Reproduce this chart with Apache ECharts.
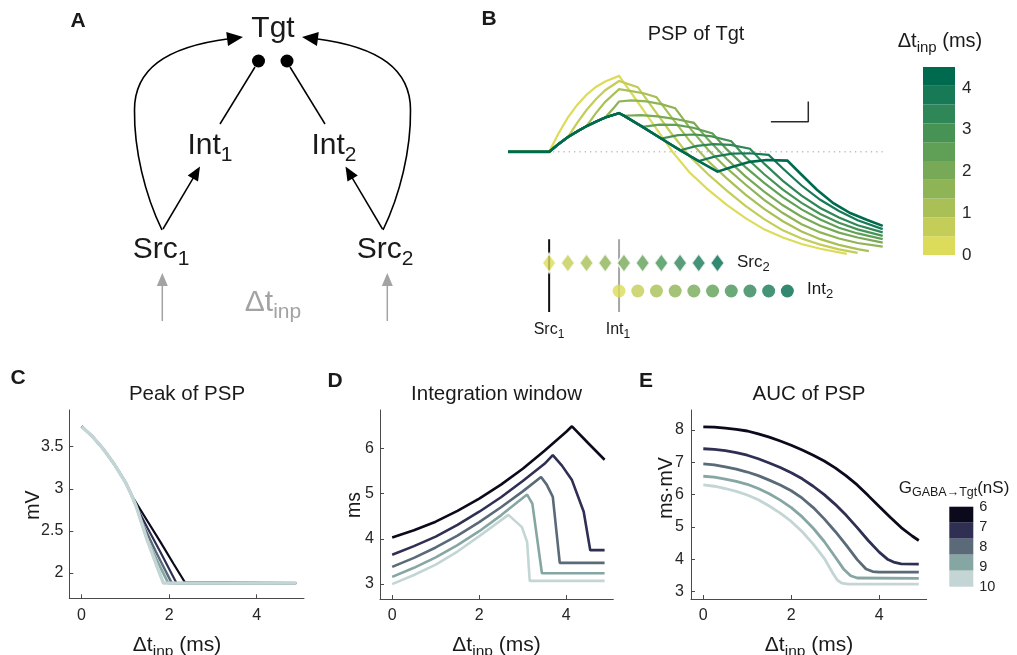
<!DOCTYPE html>
<html>
<head>
<meta charset="utf-8">
<script src="https://cdn.jsdelivr.net/npm/echarts@6/dist/echarts.min.js"></script>
<style>
  html, body { margin: 0; padding: 0; background: #fff; }
  #chart { width: 1017px; height: 655px; }
</style>
</head>
<body>
<div id="chart"></div>
<script>
const FONT = '"Liberation Sans", Arial, Helvetica, sans-serif';

// ---------------- Panel B: PSP of Tgt for each input delay ----------------
const dtInp = [0, 0.5, 1, 1.5, 2, 2.5, 3, 3.5, 4, 4.5];            // Δt_inp (ms)
const dtColors = ['#dcdc5a', '#c3cd57', '#a8c055', '#8fb455', '#77a956',
                  '#60a056', '#479356', '#2f8657', '#187956', '#006a4f'];
const src1Time = 0;
const int1Time = 1.87;
const src2Times = [0, 0.5, 1, 1.5, 2, 2.5, 3, 3.5, 4, 4.5];
const int2Times = [1.87, 2.37, 2.87, 3.37, 3.87, 4.37, 4.87, 5.37, 5.87, 6.37];

// [time (ms), membrane potential relative to rest (mV)]
const pspDt00 = [[-1.1,0],[0,0],[0.25,0.9],[0.5,1.68],[0.75,2.3],[1.0,2.8],[1.25,3.18],[1.5,3.45],[1.87,3.72],
  [2.25,2.75],[2.75,1.45],[3.3,0],[3.75,-1.0],[4.25,-1.85],[4.75,-2.6],[5.25,-3.25],[5.75,-3.8],[6.25,-4.2],
  [6.75,-4.52],[7.25,-4.75],[7.96,-5.0]];
const pspDt05 = [[-1.1,0],[0,0],[0.25,0.38],[0.5,0.72],[0.75,1.42],[1.0,2.05],[1.25,2.58],[1.5,3.02],[1.87,3.47],
  [2.1,3.33],[2.37,3.17],[2.75,2.2],[3.25,0.95],[3.75,-0.2],[4.25,-1.1],[4.75,-1.9],[5.25,-2.65],[5.75,-3.3],
  [6.25,-3.85],[6.75,-4.25],[7.25,-4.55],[7.75,-4.78],[8.25,-4.95]];
const pspDt10 = [[-1.1,0],[0,0],[0.25,0.38],[0.5,0.72],[0.75,1.0],[1.0,1.26],[1.25,1.9],[1.5,2.45],[1.87,3.07],
  [2.2,2.98],[2.55,2.86],[2.87,2.68],[3.25,1.75],[3.75,0.55],[4.25,-0.45],[4.75,-1.3],[5.25,-2.1],[5.75,-2.8],
  [6.25,-3.4],[6.75,-3.9],[7.25,-4.28],[7.75,-4.56],[8.25,-4.77],[8.55,-4.87]];
const pspDt15 = [[-1.1,0],[0,0],[0.25,0.38],[0.5,0.72],[0.75,1.0],[1.0,1.26],[1.25,1.48],[1.5,1.68],[1.75,2.2],[1.87,2.47],
  [2.2,2.52],[2.6,2.47],[3.0,2.34],[3.37,2.14],[3.75,1.2],[4.25,0.1],[4.75,-0.8],[5.25,-1.6],[5.75,-2.35],
  [6.25,-3.0],[6.75,-3.55],[7.25,-3.95],[7.75,-4.25],[8.25,-4.47],[8.92,-4.65]];
const pspDt20 = [[-1.1,0],[0,0],[0.25,0.38],[0.5,0.72],[0.75,1.0],[1.0,1.26],[1.25,1.48],[1.5,1.68],[1.87,1.9],
  [2.0,1.77],[2.45,1.8],[2.9,1.74],[3.35,1.62],[3.87,1.42],[4.25,0.6],[4.75,-0.35],[5.25,-1.2],[5.75,-1.95],
  [6.25,-2.62],[6.75,-3.18],[7.25,-3.62],[7.75,-3.96],[8.25,-4.2],[8.92,-4.45]];
const pspDt25 = [[-1.1,0],[0,0],[0.25,0.38],[0.5,0.72],[0.75,1.0],[1.0,1.26],[1.25,1.48],[1.5,1.68],[1.87,1.9],
  [2.0,1.77],[2.5,1.22],[2.95,1.33],[3.4,1.32],[3.85,1.18],[4.37,0.9],[4.75,0.12],[5.25,-0.75],[5.75,-1.52],
  [6.25,-2.22],[6.75,-2.82],[7.25,-3.32],[7.75,-3.72],[8.25,-4.0],[8.92,-4.28]];
const pspDt30 = [[-1.1,0],[0,0],[0.25,0.38],[0.5,0.72],[0.75,1.0],[1.0,1.26],[1.25,1.48],[1.5,1.68],[1.87,1.9],
  [2.0,1.77],[2.5,1.22],[3.0,0.65],[3.45,0.82],[3.9,0.85],[4.35,0.76],[4.87,0.52],[5.25,-0.25],[5.75,-1.1],
  [6.25,-1.85],[6.75,-2.5],[7.25,-3.05],[7.75,-3.48],[8.25,-3.8],[8.92,-4.12]];
const pspDt35 = [[-1.1,0],[0,0],[0.25,0.38],[0.5,0.72],[0.75,1.0],[1.0,1.26],[1.25,1.48],[1.5,1.68],[1.87,1.9],
  [2.0,1.77],[2.5,1.22],[3.0,0.65],[3.5,0.08],[3.95,0.29],[4.4,0.38],[4.85,0.34],[5.37,0.15],[5.75,-0.58],
  [6.25,-1.42],[6.75,-2.15],[7.25,-2.75],[7.75,-3.22],[8.25,-3.6],[8.92,-3.95]];
const pspDt40 = [[-1.1,0],[0,0],[0.25,0.38],[0.5,0.72],[0.75,1.0],[1.0,1.26],[1.25,1.48],[1.5,1.68],[1.87,1.9],
  [2.0,1.77],[2.5,1.22],[3.0,0.65],[3.5,0.08],[4.0,-0.45],[4.45,-0.22],[4.9,-0.09],[5.35,-0.07],[5.87,-0.15],
  [6.25,-0.82],[6.75,-1.65],[7.25,-2.35],[7.75,-2.9],[8.25,-3.35],[8.92,-3.79]];
const pspDt45 = [[-1.1,0],[0,0],[0.25,0.38],[0.5,0.72],[0.75,1.0],[1.0,1.26],[1.25,1.48],[1.5,1.68],[1.87,1.9],
  [2.0,1.77],[2.5,1.22],[3.0,0.65],[3.5,0.08],[4.0,-0.45],[4.5,-0.97],[4.93,-0.72],[5.37,-0.49],[5.82,-0.4],
  [6.37,-0.43],[6.71,-1.05],[7.16,-1.86],[7.6,-2.52],[8.05,-3.0],[8.49,-3.33],[8.92,-3.63]];
const pspTraces = [pspDt00, pspDt05, pspDt10, pspDt15, pspDt20, pspDt25, pspDt30, pspDt35, pspDt40, pspDt45];

const restLine = [[0.1, 0], [8.92, 0]];
const scaleBar = [[5.93, 1.47], [6.93, 1.47], [6.93, 2.47]];   // 1 ms x 1 mV
const colorbarTicks = [0, 1, 2, 3, 4];
const colorbarStep = 0.45;                                     // 10 colours over 0-4.5 ms

// ---------------- Panels C-E: sweep over GABA conductance ----------------
const gabaG = [6, 7, 8, 9, 10];                                   // nS
const gabaLabels = ['6', '7', '8', '9', '10'];
const gabaColors = ['#0a0a1c', '#2e2f52', '#5a6a78', '#86a6a3', '#c3d5d4'];
const xTicks = [0, 2, 4];

const peakG6  = [[0,3.74],[0.25,3.62],[0.5,3.47],[0.75,3.29],[1.0,3.08],[1.12,2.95],[1.18,2.89],[1.5,2.62],[1.8,2.37],[2.1,2.11],[2.36,1.89],[4.9,1.88]];
const peakG7  = [[0,3.74],[0.25,3.62],[0.5,3.47],[0.75,3.29],[1.0,3.08],[1.12,2.95],[1.25,2.79],[1.5,2.54],[1.8,2.25],[2.17,1.88],[4.9,1.88]];
const peakG8  = [[0,3.74],[0.25,3.62],[0.5,3.47],[0.75,3.29],[1.0,3.08],[1.12,2.95],[1.25,2.79],[1.4,2.58],[1.7,2.25],[2.06,1.88],[4.9,1.88]];
const peakG9  = [[0,3.74],[0.25,3.62],[0.5,3.47],[0.75,3.29],[1.0,3.08],[1.12,2.95],[1.25,2.79],[1.5,2.39],[1.75,2.12],[1.98,1.88],[4.9,1.88]];
const peakG10 = [[0,3.74],[0.25,3.62],[0.5,3.47],[0.75,3.29],[1.0,3.08],[1.12,2.95],[1.25,2.79],[1.5,2.39],[1.75,2.04],[1.87,1.88],[4.9,1.88]];
const peakPSP = [peakG6, peakG7, peakG8, peakG9, peakG10];

const winG6  = [[0,4.03],[0.5,4.19],[1,4.38],[1.5,4.62],[2,4.89],[2.5,5.2],[3,5.55],[3.5,5.95],[4,6.37],[4.13,6.49],[4.5,6.12],[4.88,5.75]];
const winG7  = [[0,3.65],[0.5,3.84],[1,4.05],[1.5,4.31],[2,4.6],[2.5,4.92],[3,5.28],[3.5,5.66],[3.69,5.85],[3.9,5.62],[4.13,5.3],[4.4,4.6],[4.55,3.75],[4.88,3.75]];
const winG8  = [[0,3.38],[0.5,3.58],[1,3.81],[1.5,4.07],[2,4.37],[2.5,4.7],[3,5.05],[3.42,5.37],[3.55,5.2],[3.69,4.93],[3.85,3.47],[4.88,3.47]];
const winG9  = [[0,3.16],[0.5,3.36],[1,3.59],[1.5,3.86],[2,4.17],[2.5,4.52],[3.1,4.98],[3.22,4.78],[3.44,3.24],[4.88,3.24]];
const winG10 = [[0,3.0],[0.5,3.2],[1,3.43],[1.5,3.72],[2,4.06],[2.67,4.53],[2.98,4.26],[3.1,3.93],[3.16,3.07],[4.88,3.07]];
const intWindow = [winG6, winG7, winG8, winG9, winG10];

const aucG6  = [[0,8.1],[0.25,8.09],[0.5,8.06],[0.75,8.02],[1,7.97],[1.25,7.88],[1.5,7.78],[1.75,7.66],[2,7.53],[2.25,7.38],[2.5,7.22],
  [2.75,7.04],[3,6.83],[3.25,6.58],[3.5,6.3],[3.75,5.97],[4,5.63],[4.25,5.3],[4.5,4.98],[4.75,4.72],[4.9,4.58]];
const aucG7  = [[0,7.42],[0.25,7.4],[0.5,7.36],[0.75,7.3],[1,7.22],[1.25,7.11],[1.5,6.98],[1.75,6.84],[2,6.68],[2.25,6.49],[2.5,6.26],
  [2.75,6.0],[3,5.7],[3.25,5.36],[3.5,4.98],[3.75,4.58],[4,4.22],[4.2,3.99],[4.35,3.9],[4.5,3.86],[4.9,3.85]];
const aucG8  = [[0,6.95],[0.25,6.92],[0.5,6.86],[0.75,6.79],[1,6.7],[1.25,6.59],[1.5,6.45],[1.75,6.3],[2,6.12],[2.25,5.89],[2.5,5.6],
  [2.75,5.25],[3,4.86],[3.25,4.44],[3.5,3.99],[3.7,3.7],[3.85,3.62],[4,3.6],[4.9,3.6]];
const aucG9  = [[0,6.57],[0.25,6.54],[0.5,6.48],[0.75,6.41],[1,6.32],[1.25,6.19],[1.5,6.03],[1.75,5.83],[2,5.6],[2.25,5.31],[2.5,4.96],
  [2.75,4.55],[3,4.07],[3.2,3.68],[3.35,3.49],[3.5,3.42],[4.9,3.41]];
const aucG10 = [[0,6.3],[0.25,6.26],[0.5,6.19],[0.75,6.1],[1,5.99],[1.25,5.84],[1.5,5.65],[1.75,5.43],[2,5.17],[2.25,4.85],[2.5,4.47],
  [2.75,4.03],[2.95,3.56],[3.05,3.35],[3.15,3.26],[3.3,3.23],[4.9,3.23]];
const aucPSP = [aucG6, aucG7, aucG8, aucG9, aucG10];

// ---------------- helpers ----------------
const INK = '#1a1a1a';
const AXIS = '#4a4a4a';

function txt(x, y, text, size, opts = {}) {
  return {
    type: 'text', x, y, rotation: opts.rotation || 0, z: 100,
    style: {
      text, fontSize: size, fontFamily: FONT, fontWeight: opts.bold ? 'bold' : 'normal',
      fill: opts.color || INK, align: opts.align || 'center', verticalAlign: 'middle',
      rich: opts.rich
    }
  };
}
// text with a subscript part
function subTxt(x, y, main, sub, size, subSize, pad, opts = {}) {
  const color = opts.color || INK;
  const tail = opts.tail || '';
  const rich = {
    m: { fontSize: size, fontFamily: FONT, fill: color },
    s: { fontSize: subSize, fontFamily: FONT, fill: color, padding: [pad, 0, 0, 0] }
  };
  const text = '{m|' + main + '}{s|' + sub + '}' + (tail ? '{m|' + tail + '}' : '');
  return txt(x, y, text, size, Object.assign({}, opts, { rich }));
}
function seg(x1, y1, x2, y2, color, w) {
  return { type: 'line', z: 90, shape: { x1, y1, x2, y2 }, style: { stroke: color, lineWidth: w } };
}
function head(tipX, tipY, fromX, fromY, len, halfW, color) {
  const dx = tipX - fromX, dy = tipY - fromY, d = Math.hypot(dx, dy);
  const ux = dx / d, uy = dy / d;
  const bx = tipX - ux * len, by = tipY - uy * len;
  return { type: 'polygon', z: 91,
    shape: { points: [[tipX, tipY], [bx - uy * halfW, by + ux * halfW], [bx + uy * halfW, by - ux * halfW]] },
    style: { fill: color } };
}
function arrow(x1, y1, x2, y2, color, w, len, halfW) {
  const dx = x2 - x1, dy = y2 - y1, d = Math.hypot(dx, dy);
  const ex = x2 - dx / d * (len - 2), ey = y2 - dy / d * (len - 2);
  return [seg(x1, y1, ex, ey, color, w), head(x2, y2, x1, y1, len, halfW, color)];
}
function bez(p0, c1, c2, p1) {
  return { type: 'bezierCurve', z: 90,
    shape: { x1: p0[0], y1: p0[1], cpx1: c1[0], cpy1: c1[1], cpx2: c2[0], cpy2: c2[1], x2: p1[0], y2: p1[1] },
    style: { stroke: '#000', lineWidth: 1.6, fill: null } };
}
const mir = p => [545 - p[0], p[1]];

// ---------------- Panel A: circuit diagram ----------------
const GREY = '#a3a3a3';
const diagram = [
  subTxt(273, 29, 'Tgt', '', 30, 20, 0),
  { type: 'circle', z: 92, shape: { cx: 258.5, cy: 61, r: 6.5 }, style: { fill: '#000' } },
  { type: 'circle', z: 92, shape: { cx: 287, cy: 61, r: 6.5 }, style: { fill: '#000' } },
  seg(255, 67, 220, 124, '#000', 1.5),
  seg(290, 67, 325, 124, '#000', 1.5),
  subTxt(210, 146, 'Int', '1', 30, 21, 18),
  subTxt(334, 146, 'Int', '2', 30, 21, 18),
  subTxt(161, 250, 'Src', '1', 30, 21, 18),
  subTxt(385, 250, 'Src', '2', 30, 21, 18),
  ...arrow(163, 229, 200, 166.5, '#000', 1.5, 14, 6),
  ...arrow(382.5, 229, 345.5, 166.5, '#000', 1.5, 14, 6),
  bez([162, 230], [145, 195], [134, 150], [134.5, 110]),
  bez([134.5, 110], [134.5, 70], [165, 47], [229, 38.8]),
  head(243, 37, 206.7, 41.7, 16, 7, '#000'),
  bez(mir([162, 230]), mir([145, 195]), mir([134, 150]), mir([134.5, 110])),
  bez(mir([134.5, 110]), mir([134.5, 70]), mir([165, 47]), mir([229, 38.8])),
  head(302, 37, 338.3, 41.7, 16, 7, '#000'),
  ...arrow(162.3, 321, 162.3, 273, GREY, 1.5, 13, 5.5),
  ...arrow(387.3, 321, 387.3, 273, GREY, 1.5, 13, 5.5),
  subTxt(273, 303, 'Δt', 'inp', 30, 21, 18, { color: GREY })
];

// ---------------- static text ----------------
const texts = [
  txt(78, 21, 'A', 21, { bold: true }),
  txt(489, 19, 'B', 21, { bold: true }),
  txt(18, 378, 'C', 21, { bold: true }),
  txt(335, 381, 'D', 21, { bold: true }),
  txt(646, 381, 'E', 21, { bold: true }),
  txt(696, 34, 'PSP of Tgt', 20),
  txt(187, 394, 'Peak of PSP', 20.5),
  txt(496.5, 394, 'Integration window', 20.5),
  txt(809, 394, 'AUC of PSP', 20.5),
  txt(34, 505, 'mV', 19.5, { rotation: Math.PI / 2 }),
  txt(355, 505, 'ms', 19.5, { rotation: Math.PI / 2 }),
  txt(667, 488, 'ms·mV', 19.5, { rotation: Math.PI / 2 }),
  subTxt(177, 645, 'Δt', 'inp', 21, 15.5, 13, { tail: ' (ms)' }),
  subTxt(496.5, 645, 'Δt', 'inp', 21, 15.5, 13, { tail: ' (ms)' }),
  subTxt(809, 645, 'Δt', 'inp', 21, 15.5, 13, { tail: ' (ms)' }),
  subTxt(940, 41, 'Δt', 'inp', 20, 15, 13, { tail: ' (ms)' }),
  subTxt(737, 262, 'Src', '2', 17, 13, 11, { align: 'left' }),
  subTxt(807, 289, 'Int', '2', 17, 13, 11, { align: 'left' }),
  subTxt(549, 330, 'Src', '1', 16, 12, 10),
  subTxt(618, 330, 'Int', '1', 16, 12, 10),
  {
    type: 'text', x: 954, y: 488, z: 100,
    style: {
      text: '{g|G}{s|GABA→Tgt}{g|(nS)}', align: 'center', verticalAlign: 'middle',
      rich: {
        g: { fontSize: 17, fontFamily: FONT, fill: INK },
        s: { fontSize: 12.5, fontFamily: FONT, fill: INK, padding: [10, 0, 0, 0] }
      }
    }
  }
];

// ---------------- axes ----------------
const hiddenValue = (min, max, idx) => ({ type: 'value', gridIndex: idx, min, max, show: false });
function plotX(idx) {
  return {
    type: 'value', gridIndex: idx, min: -0.28, max: 5.08,
    axisLine: { show: true, onZero: false, lineStyle: { color: AXIS, width: 1 } },
    axisTick: { show: true, inside: true, length: 4, customValues: xTicks, lineStyle: { color: AXIS } },
    axisLabel: { customValues: xTicks, color: '#262626', fontSize: 16, fontFamily: FONT, margin: 9 },
    splitLine: { show: false }
  };
}
function plotY(idx, min, max, ticks, margin) {
  return {
    type: 'value', gridIndex: idx, min, max,
    axisLine: { show: true, onZero: false, lineStyle: { color: AXIS, width: 1 } },
    axisTick: { show: true, inside: true, length: 4, customValues: ticks, lineStyle: { color: AXIS } },
    axisLabel: { customValues: ticks, color: '#262626', fontSize: 16, fontFamily: FONT, margin },
    splitLine: { show: false }
  };
}

const grids = [
  { left: 508, top: 58, width: 377.7, height: 204 },        // 0 B traces
  { left: 508, top: 239.2, width: 377.7, height: 72.8 },    // 1 B input raster
  { left: 923, top: 67, width: 32, height: 188 },           // 2 B colorbar
  { left: 69.3, top: 410, width: 234.7, height: 188.3 },    // 3 C
  { left: 380, top: 410, width: 233.3, height: 189 },       // 4 D
  { left: 691, top: 410, width: 235.7, height: 189 },       // 5 E
  { left: 949.3, top: 506.7, width: 24, height: 80 }        // 6 E legend
].map(g => Object.assign({ outerBoundsMode: 'none', containLabel: false }, g));

const xAxes = [
  hiddenValue(-1.1, 9.0, 0),
  hiddenValue(-1.1, 9.0, 1),
  { type: 'category', gridIndex: 2, data: ['Δt'], show: false },
  plotX(3), plotX(4), plotX(5),
  { type: 'category', gridIndex: 6, data: ['G'], show: false }
];
const yAxes = [
  hiddenValue(-5.4, 4.6, 0),
  hiddenValue(-0.75, 1.85, 1),
  {
    type: 'value', gridIndex: 2, min: 0, max: 4.5, position: 'right',
    axisLine: { show: false }, axisTick: { show: false }, splitLine: { show: false },
    axisLabel: { color: '#262626', fontSize: 17, fontFamily: FONT, margin: 7,
      customValues: colorbarTicks }
  },
  plotY(3, 1.70, 3.935, [2, 2.5, 3, 3.5], 6),
  plotY(4, 2.67, 6.85, [3, 4, 5, 6], 6),
  plotY(5, 2.77, 8.62, [3, 4, 5, 6, 7, 8], 7),
  {
    type: 'value', gridIndex: 6, min: 0, max: 5, inverse: true, position: 'right',
    axisLine: { show: false }, axisTick: { show: false }, splitLine: { show: false },
    axisLabel: { color: '#262626', fontSize: 14.5, fontFamily: FONT, margin: 6,
      customValues: [0, 1.25, 2.5, 3.75, 5],
      formatter: v => gabaLabels[Math.round(v / 1.25)] }
  }
];

// ---------------- series ----------------
const series = [];

// resting level (dotted)
series.push({ type: 'line', xAxisIndex: 0, yAxisIndex: 0, data: restLine, symbol: 'none', z: 1,
  lineStyle: { color: '#9c9c9c', width: 1, type: [1.3, 4] } });

pspTraces.forEach((tr, i) => {
  series.push({ type: 'line', xAxisIndex: 0, yAxisIndex: 0, data: tr, symbol: 'none', z: 2 + i,
    lineStyle: { color: dtColors[i], width: i === 9 ? 2.6 : 2.2, join: 'miter' } });
});

series.push({ type: 'line', xAxisIndex: 0, yAxisIndex: 0, data: scaleBar, symbol: 'none', z: 20,
  lineStyle: { color: '#2b2b2b', width: 1.5 } });

// input timing raster
series.push({ type: 'line', xAxisIndex: 1, yAxisIndex: 1, data: [[src1Time, -0.75], [src1Time, 1.85]],
  symbol: 'none', z: 2, lineStyle: { color: '#111', width: 2 } });
series.push({ type: 'line', xAxisIndex: 1, yAxisIndex: 1, data: [[int1Time, -0.75], [int1Time, 1.85]],
  symbol: 'none', z: 2, lineStyle: { color: '#a6a6a6', width: 2 } });
series.push({ type: 'scatter', xAxisIndex: 1, yAxisIndex: 1, symbol: 'diamond', symbolSize: [14, 19], z: 5,
  data: src2Times.map((t, i) => ({ value: [t, 1], itemStyle: { color: dtColors[i] } })),
  itemStyle: { borderColor: '#fff', borderWidth: 2 } });
series.push({ type: 'scatter', xAxisIndex: 1, yAxisIndex: 1, symbol: 'circle', symbolSize: 13, z: 5,
  data: int2Times.map((t, i) => ({ value: [t, 0], itemStyle: { color: dtColors[i] } })) });

// Δt colorbar
dtInp.forEach((d, i) => {
  series.push({ type: 'bar', xAxisIndex: 2, yAxisIndex: 2, stack: 'cb', data: [colorbarStep], barWidth: '100%',
    itemStyle: { color: dtColors[i] } });
});

// C, D, E  (lighter curves drawn last and a little wider, so they sit on top)
const lineW = [[2.2, 2.2, 2.4, 2.7, 3.4], [2.6, 2.6, 2.6, 2.6, 2.6], [2.8, 2.8, 2.8, 2.8, 2.8]];
[peakPSP, intWindow, aucPSP].forEach((set, p) => {
  set.forEach((d, i) => {
    series.push({ type: 'line', xAxisIndex: 3 + p, yAxisIndex: 3 + p, data: d, symbol: 'none', z: 2 + i,
      lineStyle: { color: gabaColors[i], width: lineW[p][i] } });
  });
});

// G colour key
gabaG.forEach((g, i) => {
  series.push({ type: 'bar', xAxisIndex: 6, yAxisIndex: 6, stack: 'g', data: [1], barWidth: '100%',
    itemStyle: { color: gabaColors[i] } });
});

const chart = echarts.init(document.getElementById('chart'), null, { renderer: 'canvas' });
chart.setOption({
  animation: false,
  backgroundColor: '#fff',
  textStyle: { fontFamily: FONT },
  grid: grids,
  xAxis: xAxes,
  yAxis: yAxes,
  series,
  graphic: { elements: diagram.concat(texts) }
});
</script>
</body>
</html>
